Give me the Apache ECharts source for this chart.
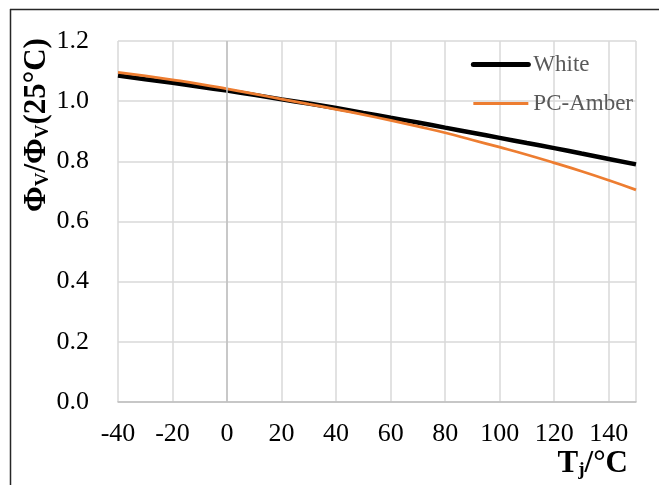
<!DOCTYPE html>
<html>
<head>
<meta charset="utf-8">
<script src="https://cdn.jsdelivr.net/npm/echarts@6/dist/echarts.min.js"></script>
<style>
html,body{margin:0;padding:0;background:#fff;}
#chart{width:659px;height:485px;}
</style>
</head>
<body>
<div id="chart"></div>
<script>
var temps = [-40,-30,-20,-10,0,10,20,30,40,50,60,70,80,90,100,110,120,130,140,150];
var whiteVals = [1.085,1.073,1.061,1.048,1.035,1.021,1.006,0.992,0.977,0.961,0.945,0.929,0.912,0.895,0.878,0.861,0.844,0.826,0.808,0.790];
var amberVals = [1.096,1.084,1.071,1.057,1.041,1.024,1.007,0.990,0.973,0.955,0.936,0.916,0.895,0.871,0.847,0.822,0.795,0.767,0.737,0.705];
var xTicks = [-40,-20,0,20,40,60,80,100,120,140];
var yTicks = [0,0.2,0.4,0.6,0.8,1.0,1.2];
var seriesNames = ['White','PC-Amber'];

function pairs(xs, ys){ return xs.map(function(x,i){ return [x, ys[i]]; }); }

var FONT = '"Liberation Serif","Times New Roman",serif';
var chart = echarts.init(document.getElementById('chart'), null, {renderer:'canvas'});
chart.setOption({
  animation:false,
  backgroundColor:'#fff',
  grid:{left:118, right:23, top:41, bottom:83, containLabel:false},
  legend:{
    orient:'vertical', right:21, top:48, itemWidth:55, itemHeight:14, itemGap:16,
    itemStyle:{opacity:0},
    textStyle:{fontFamily:FONT, fontSize:23, color:'#595959', padding:[0,0,0,0]},
    data:[
      {name:seriesNames[0], lineStyle:{width:5, cap:'round'}},
      {name:seriesNames[1], lineStyle:{width:3}}
    ]
  },
  xAxis:{
    type:'value', min:-40, max:150, interval:20,
    axisLine:{show:true, lineStyle:{color:'#bfbfbf', width:1.5}},
    axisTick:{show:false},
    splitLine:{show:true, lineStyle:{color:'#d9d9d9', width:1.5}},
    axisLabel:{fontFamily:FONT, fontSize:26, color:'#000', margin:19,
      formatter:function(v){ return xTicks.indexOf(v) >= 0 ? String(v) : ''; }}
  },
  yAxis:{
    type:'value', min:0, max:1.2, interval:0.2,
    axisLine:{show:false},
    axisTick:{show:false},
    splitLine:{show:true, lineStyle:{color:'#d9d9d9', width:1.5}},
    axisLabel:{fontFamily:FONT, fontSize:26, color:'#000', margin:29,
      formatter:function(v){ return yTicks.indexOf(Math.round(v*10)/10) >= 0 ? v.toFixed(1) : ''; }}
  },
  series:[
    {name:seriesNames[0], type:'line', data:pairs(temps, whiteVals), showSymbol:false, symbol:'none', smooth:true,
     lineStyle:{color:'#000', width:4.5}, itemStyle:{color:'#000'}, z:3,
     markLine:{silent:true, symbol:'none', label:{show:false},
       lineStyle:{color:'#bfbfbf', width:1.5, type:'solid'}, data:[{xAxis:0}]}},
    {name:seriesNames[1], type:'line', data:pairs(temps, amberVals), showSymbol:false, symbol:'none', smooth:true,
     lineStyle:{color:'#ED7D31', width:2.75}, itemStyle:{color:'#ED7D31'}, z:4}
  ],
  graphic:[
    {type:'line', shape:{x1:10, y1:9.5, x2:659, y2:9.5}, style:{stroke:'#262626', lineWidth:1.5}, silent:true},
    {type:'line', shape:{x1:10.5, y1:9, x2:10.5, y2:485}, style:{stroke:'#262626', lineWidth:1.5}, silent:true},
    {type:'text', x:37, y:125, rotation:Math.PI/2, silent:true,
     style:{text:'{b|Φ}{s|V}{b|/Φ}{s|V}{b|(25°C)}', align:'center', verticalAlign:'middle',
       rich:{b:{fontFamily:FONT, fontSize:31, fontWeight:'bold', fill:'#000'},
             s:{fontFamily:FONT, fontSize:19, fontWeight:'bold', fill:'#000', verticalAlign:'bottom', padding:[12,0,0,0]}}}},
    {type:'text', x:628, y:464, silent:true,
     style:{text:'{b|T}{s|j}{b|/°C}', align:'right', verticalAlign:'middle',
       rich:{b:{fontFamily:FONT, fontSize:31, fontWeight:'bold', fill:'#000'},
             s:{fontFamily:FONT, fontSize:19, fontWeight:'bold', fill:'#000', verticalAlign:'bottom', padding:[12,0,0,0]}}}}
  ]
});
</script>
</body>
</html>
